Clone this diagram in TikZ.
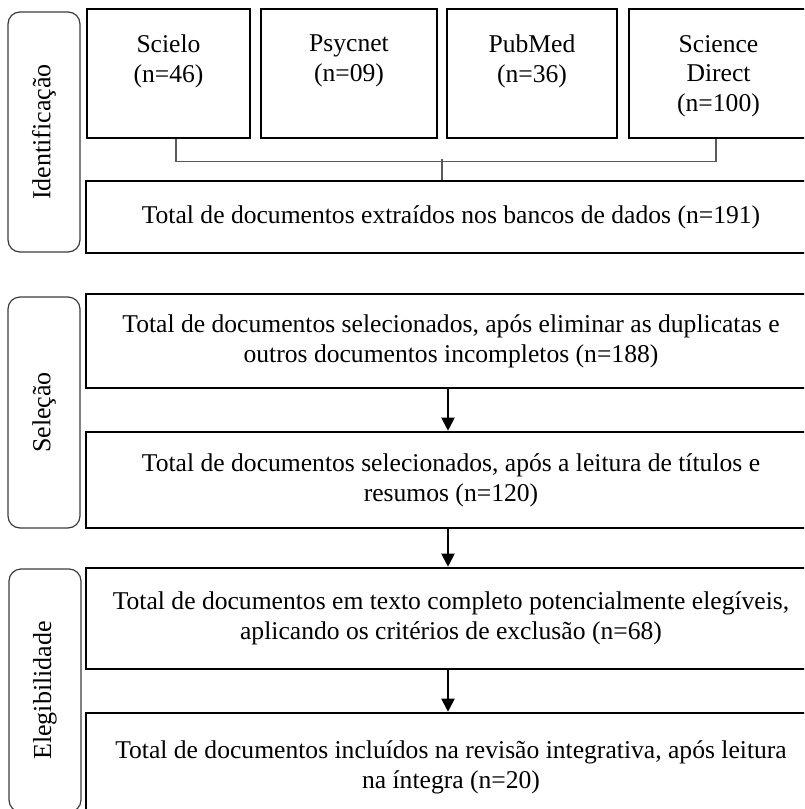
\documentclass[tikz,border=0pt]{standalone}
\usepackage{fontspec}
\setmainfont{Liberation Serif}
\usepackage{tikz}
\usetikzlibrary{positioning}
\usetikzlibrary{arrows.meta}
\tikzstyle{pixelGrid} = [x = 0.5pt, y = -0.5pt]
\definecolor{frameGray}{RGB}{60,60,60}
\definecolor{bracketGray}{RGB}{90,90,90}
\tikzstyle{dbBox} = [draw=black, line width=1.3pt, minimum height=64.5pt, inner sep=0pt]
\tikzstyle{dbText} = [font=\fontsize{12.8}{14.8}\selectfont, align=center, inner sep=0pt]
\tikzstyle{stepBox} = [draw=black, line width=1.3pt, minimum width=365pt, align=center, font=\fontsize{12.8}{15}\selectfont]
\tikzstyle{phaseBox} = [draw=frameGray, line width=0.6pt, rounded corners=6pt, rotate=90, minimum height=36pt, font=\fontsize{13}{15}\selectfont]
\tikzstyle{bracketLine} = [draw=bracketGray, line width=0.8pt]
\tikzstyle{flowArrow} = [draw=black, line width=1pt, -{Triangle[width=6.5pt, length=6.5pt]}]
\newcommand{\dbNode}[4]{\node [dbBox, minimum width=#3] (#1) at (#2) {};
  \node [dbText, below=13.5pt of #1.north] (#1Text) {#4};}

\begin{document}
\begin{tikzpicture}[pixelGrid]
  \useasboundingbox (0,0) rectangle (804,809);
  \clip (0,0) rectangle (804,809);

  % phases
  \node [phaseBox, minimum width=120pt] (identificacao) at (44,132) {Identificação};
  \node [phaseBox, minimum width=115.5pt] (selecao) at (44,412.5) {Seleção};
  \node [phaseBox, minimum width=121.5pt] (elegibilidade) at (45,690.5) {Elegibilidade};

  % data bases
  \dbNode{scielo}{168.5,73.5}{81.5pt}{Scielo\\(n=46)}
  \dbNode{psycnet}{349,73.5}{88pt}{Psycnet\\(n=09)}
  \dbNode{pubmed}{532,73.5}{85pt}{PubMed\\(n=36)}
  \dbNode{direct}{718.5,73.5}{89.5pt}{Science\\Direct\\(n=100)}

  \node [stepBox, minimum height=36pt] (total) at (451,217) {Total de documentos extraídos nos bancos de dados (n=191)};
  \node [stepBox, minimum height=47pt] (duplicatas) at (451,341) {Total de documentos selecionados, após eliminar as duplicatas e\\outros documentos incompletos (n=188)};
  \node [stepBox, minimum height=48pt] (resumos) at (451,480) {Total de documentos selecionados, após a leitura de títulos e\\resumos (n=120)};
  \node [stepBox, minimum height=50.5pt] (exclusao) at (451,618.5) {Total de documentos em texto completo potencialmente elegíveis,\\aplicando os critérios de exclusão (n=68)};
  \node [stepBox, minimum height=54pt] (incluidos) at (451,767) {Total de documentos incluídos na revisão integrativa, após leitura\\na íntegra (n=20)};

  % connectors
  \draw [bracketLine] ([xshift=3.75pt]scielo.south) -- ++(0,22) -| ([xshift=-1.25pt]direct.south);
  \draw [bracketLine] ([xshift=-4.5pt]total.north) -- ++(0,-21);
  \draw [flowArrow] ([xshift=-1.5pt]duplicatas.south) -- ([xshift=-1.5pt]resumos.north);
  \draw [flowArrow] ([xshift=-1.5pt]resumos.south) -- ([xshift=-1.5pt]exclusao.north);
  \draw [flowArrow] ([xshift=-1.5pt]exclusao.south) -- ([xshift=-1.5pt]incluidos.north);
\end{tikzpicture}
\end{document}
